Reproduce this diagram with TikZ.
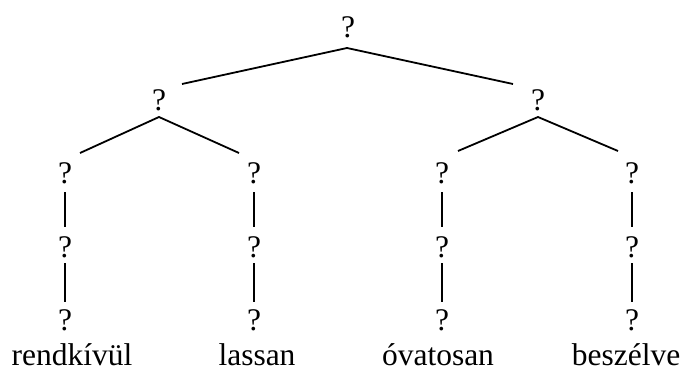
\documentclass[tikz,border=0pt]{standalone}
\usepackage{fontspec}
\setmainfont{Liberation Serif}
\usetikzlibrary{calc}
\begin{document}
\begin{tikzpicture}[x=1pt,y=-1pt,
  q/.style={font=\fontsize{31.5}{36}\selectfont, inner sep=0pt, anchor=base},
  edge/.style={line width=1.8pt}]
\useasboundingbox (0,0) rectangle (683,372);
% root and level 2
\node[q] (r) at (348,37) {?};
\node[q] (a) at (159,110) {?};
\node[q] (b) at (538,110) {?};
% level 3
\node[q] (a1) at (65,183) {?};
\node[q] (a2) at (254,183) {?};
\node[q] (b1) at (442,183) {?};
\node[q] (b2) at (632,183) {?};
% level 4
\node[q] (a1m) at (65,257) {?};
\node[q] (a2m) at (254,257) {?};
\node[q] (b1m) at (442,257) {?};
\node[q] (b2m) at (632,257) {?};
% level 5
\node[q] (a1l) at (65,330) {?};
\node[q] (a2l) at (254,330) {?};
\node[q] (b1l) at (442,330) {?};
\node[q] (b2l) at (632,330) {?};
% words
\node[q] (w1) at (72,365) {rendkívül};
\node[q] (w2) at (257,365) {lassan};
\node[q] (w3) at (438,365) {óvatosan};
\node[q] (w4) at (626,365) {beszélve};
% edges
\draw[edge] ($(a.base)+(23,-26)$) -- ($(r.base)+(-1,11)$) -- ($(b.base)+(-25,-26)$);
\draw[edge] ($(a1.base)+(15,-30)$) -- ($(a.base)+(0,7)$) -- ($(a2.base)+(-15,-30)$);
\draw[edge] ($(b1.base)+(16,-32)$) -- ($(b.base)+(0,7)$) -- ($(b2.base)+(-14,-32)$);
\foreach \u/\m/\l in {a1/a1m/a1l, a2/a2m/a2l, b1/b1m/b1l, b2/b2m/b2l}{
  \draw[edge] ($(\u.base)+(0,9)$) -- ($(\m.base)+(0,-30)$);
  \draw[edge] ($(\m.base)+(0,6)$) -- ($(\l.base)+(0,-28)$);
}
\end{tikzpicture}
\end{document}
